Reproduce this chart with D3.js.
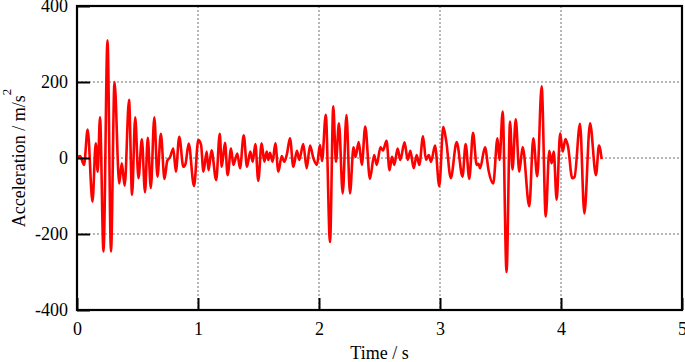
<!DOCTYPE html>
<html>
<head>
<meta charset="utf-8">
<script src="https://cdn.jsdelivr.net/npm/d3@7"></script>
<style>
  html, body { margin: 0; padding: 0; background: #fff; }
  svg { display: block; }
  text { font-family: "Liberation Serif", "Times New Roman", serif; fill: #000; }
</style>
</head>
<body>
<svg id="chart" width="685" height="362"></svg>
<script>
// ---- data ----
const xTicks = [0, 1, 2, 3, 4, 5];
const yTicks = [-400, -200, 0, 200, 400];
const xGrid = [1, 2, 3, 4];
const yGrid = [-200, 0, 200];
const xLabel = "Time / s";
const yLabel = "Acceleration / m/s";
const yLabelSup = "2";

const time = [
  0.000, 0.025, 0.058, 0.088, 0.128, 0.155, 0.171, 0.190, 0.219, 0.252,
  0.281, 0.310, 0.349, 0.370, 0.394, 0.430, 0.455, 0.481, 0.508, 0.536,
  0.562, 0.585, 0.610, 0.639, 0.665, 0.693, 0.723, 0.746, 0.769, 0.796,
  0.817, 0.845, 0.879, 0.897, 0.923, 0.967, 1.002, 1.025, 1.045, 1.072,
  1.087, 1.112, 1.150, 1.180, 1.196, 1.223, 1.245, 1.273, 1.292, 1.325,
  1.347, 1.378, 1.405, 1.432, 1.452, 1.474, 1.498, 1.526, 1.548, 1.568,
  1.581, 1.595, 1.617, 1.639, 1.664, 1.692, 1.713, 1.736, 1.760, 1.788,
  1.818, 1.837, 1.870, 1.898, 1.926, 1.953, 1.983, 2.008, 2.025, 2.056,
  2.091, 2.118, 2.140, 2.165, 2.196, 2.227, 2.256, 2.285, 2.302, 2.328,
  2.354, 2.382, 2.421, 2.456, 2.477, 2.508, 2.529, 2.558, 2.583, 2.603,
  2.622, 2.650, 2.672, 2.707, 2.733, 2.755, 2.783, 2.807, 2.829, 2.860,
  2.884, 2.907, 2.926, 2.959, 2.994, 3.027, 3.052, 3.089, 3.138, 3.186,
  3.212, 3.242, 3.273, 3.303, 3.318, 3.331, 3.372, 3.401, 3.440, 3.475,
  3.492, 3.518, 3.550, 3.579, 3.599, 3.626, 3.655, 3.683, 3.738, 3.771,
  3.804, 3.840, 3.874, 3.903, 3.923, 3.940, 3.964, 3.993, 4.014, 4.037,
  4.058, 4.093, 4.112, 4.157, 4.193, 4.240, 4.289, 4.314, 4.336
];
const accel = [
  0, 5, -18, 75, -115, 39, -36, 107, -246, 310,
  -246, 200, -67, -14, -73, 153, -97, 107, -53, 49,
  -90, 53, -79, 107, -49, 64, -55, -7, 2, 25,
  -36, 56, -23, -15, 38, -74, 47, 35, -36, 17,
  -32, 20, -58, 64, -23, 40, -45, 25, -18, 12,
  -27, 60, -23, 17, -10, 37, -60, 39, -10, 17,
  -5, 14, -10, 39, -36, 5, -10, 12, 52, -23,
  19, -5, 37, -27, 33, 0, -18, 34, -8, 114,
  -221, 136, -10, 91, -93, 113, -93, 28, 3, 42,
  -18, 83, -55, 8, -18, 28, 20, 45, -32, 3,
  -18, 25, -5, 41, -5, 19, -27, 8, -18, 57,
  -5, 8, -10, 33, -74, 82, 43, -53, 42, -49,
  37, -55, 66, -18, -15, -27, 28, -32, -67, 52,
  -5, 122, -300, 96, -30, 102, -36, 29, -127, 52,
  -48, 189, -154, 19, -14, 17, -110, 65, 17, 50,
  30, -53, -50, 90, -146, 91, -45, 33, -3
];

// ---- layout ----
const svg = d3.select("#chart");
const mLeft = 77, mRight = 682, mTop = 6, mBottom = 310;

const x = d3.scaleLinear().domain([0, 5]).range([mLeft, mRight]);
const y = d3.scaleLinear().domain([-400, 400]).range([mBottom, mTop]);

// grid
const grid = svg.append("g").attr("stroke", "#707070").attr("stroke-width", 1)
  .attr("stroke-dasharray", "2,2").attr("fill", "none");
grid.selectAll("line.gx").data(xGrid).join("line").attr("class", "gx")
  .attr("x1", d => x(d)).attr("x2", d => x(d))
  .attr("y1", mTop).attr("y2", mBottom);
grid.selectAll("line.gy").data(yGrid).join("line").attr("class", "gy")
  .attr("x1", mLeft).attr("x2", mRight)
  .attr("y1", d => y(d)).attr("y2", d => y(d));

// data line
const pts = time.map((t, i) => [t, accel[i]]);
const line = d3.line().x(d => x(d[0])).y(d => y(d[1])).curve(d3.curveMonotoneX);
svg.append("path").datum(pts)
  .attr("d", line)
  .attr("fill", "none")
  .attr("stroke", "#ff0000")
  .attr("stroke-width", 2.6)
  .attr("stroke-linejoin", "round");

// axes
const fmt = d => String(d);
const yAxis = d3.axisLeft(y).tickValues(yTicks).tickSize(-13).tickPadding(9).tickFormat(fmt);
const gy = svg.append("g").attr("transform", `translate(${mLeft},0)`).call(yAxis);
gy.select(".domain").remove();
gy.selectAll(".tick line").attr("stroke", "#000").attr("stroke-width", 2);
gy.selectAll(".tick text").style("font-size", "18px")
  .style("font-family", "'Liberation Serif', 'Times New Roman', serif").attr("fill", "#000");

const xAxis = d3.axisBottom(x).tickValues(xTicks).tickSize(-12).tickPadding(12).tickFormat(fmt);
const gx = svg.append("g").attr("transform", `translate(0,${mBottom})`).call(xAxis);
gx.select(".domain").remove();
gx.selectAll(".tick line").attr("stroke", "#000").attr("stroke-width", 2);
gx.selectAll(".tick text").style("font-size", "18px")
  .style("font-family", "'Liberation Serif', 'Times New Roman', serif").attr("fill", "#000");

// frame
svg.append("rect")
  .attr("x", mLeft).attr("y", mTop)
  .attr("width", mRight - mLeft).attr("height", mBottom - mTop)
  .attr("fill", "none").attr("stroke", "#000").attr("stroke-width", 2.2);

// axis titles
svg.append("text")
  .attr("x", (mLeft + mRight) / 2).attr("y", 359)
  .attr("text-anchor", "middle")
  .style("font-size", "18px")
  .text(xLabel);

const yt = svg.append("text")
  .attr("transform", `translate(25,${(mTop + mBottom) / 2}) rotate(-90)`)
  .attr("text-anchor", "middle")
  .style("font-size", "18px");
yt.append("tspan").text(yLabel);
yt.append("tspan").attr("dy", "-14").style("font-size", "13px").text(yLabelSup);
</script>
</body>
</html>
